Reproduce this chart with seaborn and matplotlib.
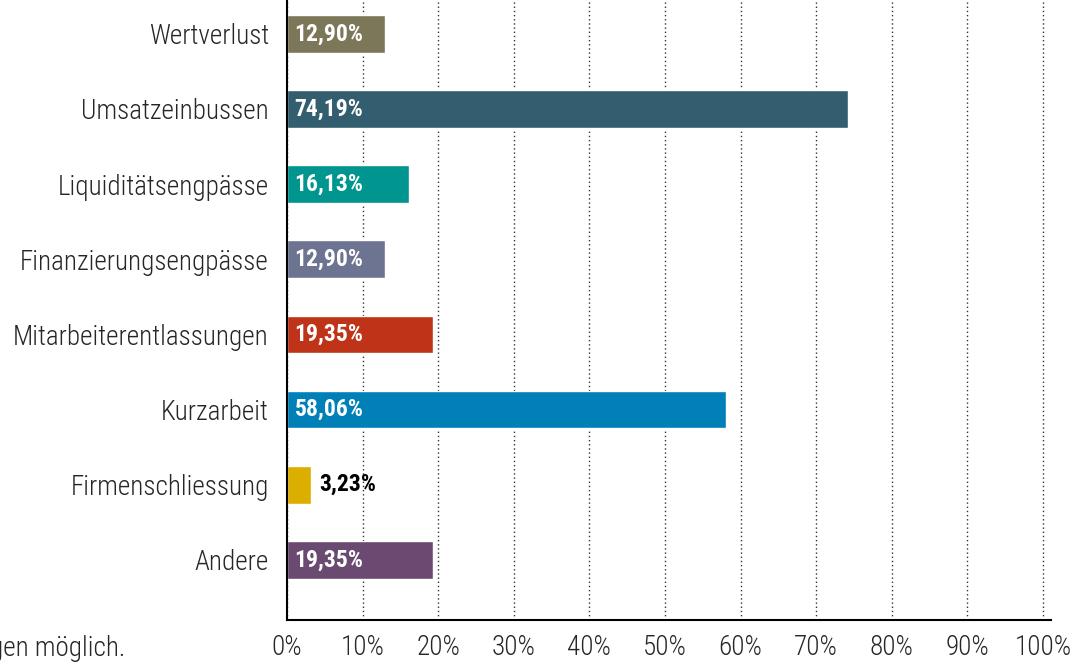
import matplotlib
matplotlib.use('Agg')
import matplotlib.pyplot as plt
import seaborn as sns
import pandas as pd
from matplotlib import font_manager

categories = ['Wertverlust', 'Umsatzeinbussen', 'Liquiditätsengpässe', 'Finanzierungsengpässe',
              'Mitarbeiterentlassungen', 'Kurzarbeit', 'Firmenschliessung', 'Andere']
values = [12.90, 74.19, 16.13, 12.90, 19.35, 58.06, 3.23, 19.35]
colors = ['#7c7759', '#335e6f', '#00968f', '#6d7491', '#bf3419', '#0080b6', '#dbae00', '#6b4a72']
xticks = list(range(0, 101, 10))

sns.set_style('white')
names = {f.name for f in font_manager.fontManager.ttflist}
family = 'DejaVu Sans'
for cand in ['Roboto Condensed', 'Archivo Narrow', 'Liberation Sans Narrow', 'Asap Condensed']:
    if cand in names:
        family = cand
        break
plt.rcParams['font.family'] = [family, 'DejaVu Sans']

df = pd.DataFrame({'cat': categories, 'val': values})

fig = plt.figure(figsize=(10.81, 6.64), dpi=100)
ax = fig.add_axes([287 / 1081, 1 - 620 / 664, (1050.6 - 287) / 1081, 620 / 664])
sns.barplot(data=df, x='val', y='cat', hue='cat', palette=colors, legend=False,
            width=0.5, saturation=1, ax=ax, orient='h')

ax.set_xlim(0, 101)
ax.set_ylim(7.8, -0.45)
ax.set_xticks(xticks)
ax.set_xticklabels([f'{t}%' for t in xticks], fontsize=19.5, fontweight='light')
ax.set_yticks(range(len(categories)))
ax.set_yticklabels(categories, fontsize=19.5, fontweight='light')
ax.tick_params(axis='y', length=0, pad=13)
ax.tick_params(axis='x', length=0, pad=10)
ax.set_xlabel('')
ax.set_ylabel('')
ax.xaxis.grid(True, linestyle=(0, (1, 2)), color='#333333', linewidth=1)
ax.set_axisbelow(True)
for s in ['top', 'right']:
    ax.spines[s].set_visible(False)
for s in ['left', 'bottom']:
    ax.spines[s].set_color('black')
    ax.spines[s].set_linewidth(1.5)

for i, v in enumerate(values):
    txt = f'{v:.2f}%'.replace('.', ',')
    if v > 8:
        ax.text(1.0, i, txt, va='center', ha='left', color='white', fontsize=17, fontweight='bold')
    else:
        ax.text(v + 1.0, i, txt, va='center', ha='left', color='black', fontsize=17, fontweight='bold')

fig.text(125 / 1081, 1 - 648 / 664, 'Mehrfachnennungen möglich.', ha='right', va='center',
         fontsize=19.5, fontweight='light')

fig.savefig('out.png', dpi=100)
